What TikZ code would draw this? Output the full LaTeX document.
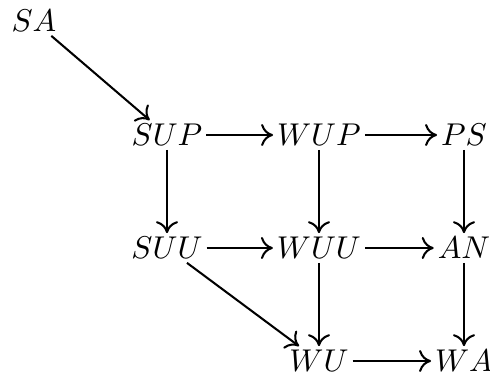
\documentclass[tikz,border=0pt]{standalone}
\usetikzlibrary{arrows.meta}
\tikzset{
  obj/.style={inner sep=1.3pt, outer sep=0pt},
  arr/.style={line width=0.65pt, -{Computer Modern Rightarrow[length=3.8pt,width=7pt]}}
}
\begin{document}
\begin{tikzpicture}[x=0.3175pt,y=-0.3175pt]
\useasboundingbox (0,0) rectangle (490,378);
\node[obj] (SA)  at (34,21)   {$SA$};
\node[obj] (SUP) at (167,135) {$SUP$};
\node[obj] (WUP) at (319,135) {$WUP$};
\node[obj] (PS)  at (464,135) {$PS$};
\node[obj] (SUU) at (167,248) {$SUU$};
\node[obj] (WUU) at (319,248) {$WUU$};
\node[obj] (AN)  at (464,248) {$AN$};
\node[obj] (WU)  at (319,361) {$WU$};
\node[obj] (WA)  at (464,361) {$WA$};
\draw[arr] (SA) -- (SUP);
\draw[arr] (SUP) -- (WUP);
\draw[arr] (WUP) -- (PS);
\draw[arr] (SUP) -- (SUU);
\draw[arr] (WUP) -- (WUU);
\draw[arr] (PS) -- (AN);
\draw[arr] (SUU) -- (WUU);
\draw[arr] (WUU) -- (AN);
\draw[arr] (SUU) -- (WU);
\draw[arr] (WUU) -- (WU);
\draw[arr] (AN) -- (WA);
\draw[arr] (WU) -- (WA);
\end{tikzpicture}
\end{document}
